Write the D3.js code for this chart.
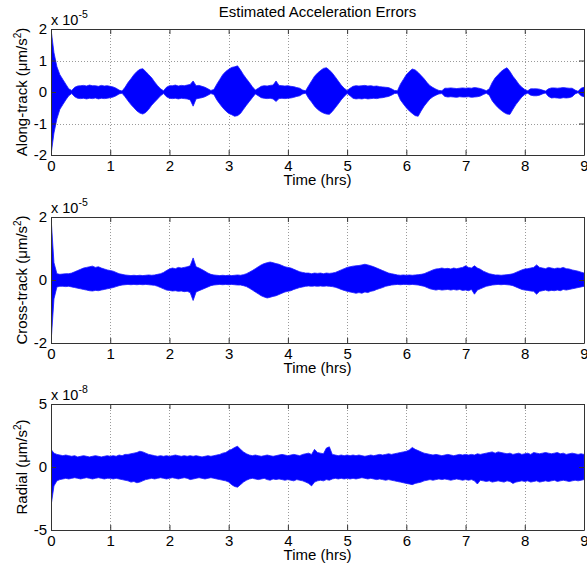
<!DOCTYPE html>
<html>
<head>
<meta charset="utf-8">
<script src="https://cdn.jsdelivr.net/npm/d3@7"></script>
<style>
body { margin: 0; background: #fff; }
svg { display: block; font-family: Arial, "Liberation Sans", Helvetica, sans-serif; }
</style>
</head>
<body>
<svg id="chart" width="587" height="571" viewBox="0 0 587 571"></svg>
<script>
// sample times in hours, one every 3 minutes (0 .. 9)
const hours = d3.range(181).map(i => +(i * 0.05).toFixed(2));

// envelope of the along-track error (x 1e-5), one row per hour
const alongUpper = [
  2.0, 1.25, 0.8, 0.55, 0.4, 0.25, 0.1, 0.05, 0.15, 0.19, 0.2, 0.21, 0.19, 0.22, 0.2, 0.2, 0.18, 0.21, 0.19, 0.2,
  0.18, 0.16, 0.12, 0.06, 0.03, 0.15, 0.3, 0.42, 0.55, 0.65, 0.72, 0.74, 0.65, 0.55, 0.45, 0.32, 0.2, 0.1, 0.04, 0.15,
  0.2, 0.2, 0.22, 0.19, 0.21, 0.2, 0.22, 0.24, 0.35, 0.2, 0.21, 0.18, 0.15, 0.1, 0.05, 0.08, 0.25, 0.4, 0.55, 0.65,
  0.72, 0.78, 0.8, 0.83, 0.7, 0.55, 0.42, 0.3, 0.17, 0.06, 0.12, 0.18, 0.2, 0.19, 0.21, 0.22, 0.35, 0.21, 0.2, 0.19,
  0.2, 0.18, 0.17, 0.14, 0.12, 0.06, 0.04, 0.2, 0.35, 0.5, 0.6, 0.68, 0.75, 0.77, 0.7, 0.6, 0.48, 0.35, 0.22, 0.12,
  0.05, 0.12, 0.18, 0.2, 0.19, 0.2, 0.21, 0.19, 0.2, 0.18, 0.19, 0.17, 0.16, 0.15, 0.14, 0.1, 0.05, 0.04, 0.25, 0.4,
  0.55, 0.65, 0.73, 0.7, 0.62, 0.52, 0.42, 0.3, 0.2, 0.14, 0.09, 0.05, 0.04, 0.12, 0.12, 0.13, 0.12, 0.11, 0.12, 0.13,
  0.12, 0.13, 0.12, 0.14, 0.13, 0.11, 0.08, 0.04, 0.1, 0.3, 0.45, 0.55, 0.65, 0.72, 0.77, 0.65, 0.5, 0.38, 0.25, 0.15,
  0.08, 0.04, 0.1, 0.1, 0.1, 0.09, 0.06, 0.03, 0.1, 0.13, 0.13, 0.12, 0.13, 0.14, 0.13, 0.12, 0.12, 0.06, 0.02, 0.12,
  0.15
];
const alongLower = [
  -2.0, -1.3, -0.85, -0.55, -0.4, -0.25, -0.12, -0.05, -0.15, -0.2, -0.21, -0.2, -0.22, -0.2, -0.21, -0.19, -0.22, -0.2, -0.21, -0.2,
  -0.18, -0.16, -0.12, -0.06, -0.04, -0.15, -0.28, -0.4, -0.5, -0.6, -0.67, -0.7, -0.65, -0.55, -0.42, -0.32, -0.22, -0.12, -0.05, -0.15,
  -0.2, -0.21, -0.2, -0.22, -0.2, -0.21, -0.22, -0.25, -0.45, -0.22, -0.2, -0.18, -0.15, -0.1, -0.05, -0.08, -0.25, -0.38, -0.5, -0.6,
  -0.68, -0.72, -0.77, -0.75, -0.68, -0.55, -0.42, -0.3, -0.18, -0.06, -0.12, -0.18, -0.2, -0.21, -0.2, -0.22, -0.3, -0.21, -0.2, -0.21,
  -0.2, -0.19, -0.17, -0.14, -0.12, -0.06, -0.04, -0.2, -0.32, -0.45, -0.55, -0.62, -0.67, -0.7, -0.71, -0.62, -0.5, -0.38, -0.25, -0.14,
  -0.05, -0.12, -0.2, -0.22, -0.21, -0.22, -0.2, -0.22, -0.21, -0.2, -0.21, -0.19, -0.18, -0.16, -0.14, -0.1, -0.05, -0.04, -0.25, -0.38,
  -0.5, -0.6, -0.68, -0.75, -0.77, -0.6, -0.45, -0.33, -0.22, -0.15, -0.1, -0.06, -0.05, -0.14, -0.16, -0.15, -0.16, -0.17, -0.15, -0.16,
  -0.16, -0.15, -0.17, -0.16, -0.15, -0.13, -0.08, -0.04, -0.1, -0.28, -0.4, -0.5, -0.58, -0.65, -0.7, -0.71, -0.55, -0.4, -0.28, -0.16,
  -0.08, -0.04, -0.1, -0.12, -0.12, -0.1, -0.06, -0.03, -0.14, -0.19, -0.18, -0.19, -0.2, -0.18, -0.19, -0.18, -0.15, -0.06, -0.02, -0.12,
  -0.15
];

// envelope of the cross-track error (x 1e-5)
const crossUpper = [
  2.0, 0.55, 0.2, 0.18, 0.19, 0.2, 0.2, 0.22, 0.26, 0.3, 0.34, 0.38, 0.4, 0.42, 0.44, 0.4, 0.42, 0.38, 0.35, 0.32,
  0.3, 0.28, 0.24, 0.2, 0.18, 0.16, 0.15, 0.14, 0.15, 0.14, 0.15, 0.14, 0.15, 0.16, 0.15, 0.16, 0.18, 0.2, 0.24, 0.3,
  0.35, 0.38, 0.36, 0.4, 0.38, 0.4, 0.42, 0.45, 0.7, 0.42, 0.38, 0.33, 0.28, 0.22, 0.18, 0.16, 0.15, 0.14, 0.15, 0.14,
  0.15, 0.14, 0.15, 0.16, 0.15, 0.17, 0.2, 0.25, 0.3, 0.36, 0.42, 0.48, 0.52, 0.55, 0.57, 0.55, 0.52, 0.5, 0.46, 0.42,
  0.4, 0.38, 0.34, 0.3, 0.26, 0.24, 0.22, 0.22, 0.2, 0.22, 0.21, 0.22, 0.2, 0.22, 0.21, 0.22, 0.24, 0.28, 0.32, 0.36,
  0.4, 0.42, 0.44, 0.45, 0.46, 0.48, 0.5, 0.48, 0.45, 0.42, 0.38, 0.34, 0.3, 0.26, 0.22, 0.2, 0.18, 0.16, 0.15, 0.16,
  0.15, 0.16, 0.15, 0.16, 0.17, 0.18, 0.2, 0.24, 0.28, 0.32, 0.35, 0.36, 0.38, 0.36, 0.37, 0.35, 0.38, 0.36, 0.38, 0.4,
  0.45, 0.4, 0.38, 0.45, 0.38, 0.34, 0.28, 0.24, 0.2, 0.18, 0.16, 0.16, 0.15, 0.16, 0.17, 0.18, 0.2, 0.24, 0.28, 0.32,
  0.35, 0.36, 0.38, 0.4, 0.48, 0.4, 0.38, 0.36, 0.4, 0.38, 0.36, 0.38, 0.37, 0.4, 0.36, 0.35, 0.32, 0.3, 0.28, 0.25,
  0.22
];
const crossLower = [
  -2.0, -0.6, -0.22, -0.2, -0.2, -0.21, -0.2, -0.22, -0.24, -0.26, -0.28, -0.3, -0.32, -0.34, -0.35, -0.33, -0.34, -0.32, -0.3, -0.28,
  -0.26, -0.24, -0.21, -0.18, -0.16, -0.15, -0.14, -0.15, -0.14, -0.15, -0.14, -0.15, -0.14, -0.15, -0.16, -0.17, -0.2, -0.24, -0.28, -0.32,
  -0.33, -0.35, -0.34, -0.36, -0.35, -0.37, -0.36, -0.4, -0.65, -0.38, -0.34, -0.3, -0.26, -0.22, -0.18, -0.16, -0.15, -0.14, -0.15, -0.14,
  -0.15, -0.14, -0.15, -0.16, -0.16, -0.18, -0.21, -0.26, -0.32, -0.38, -0.44, -0.5, -0.54, -0.57, -0.55, -0.52, -0.5, -0.46, -0.42, -0.38,
  -0.36, -0.34, -0.3, -0.27, -0.24, -0.22, -0.2, -0.19, -0.2, -0.19, -0.2, -0.19, -0.2, -0.19, -0.2, -0.21, -0.23, -0.26, -0.3, -0.33,
  -0.36, -0.38, -0.4, -0.42, -0.4, -0.42, -0.38, -0.4, -0.36, -0.34, -0.3, -0.27, -0.24, -0.2, -0.18, -0.16, -0.15, -0.14, -0.15, -0.14,
  -0.14, -0.15, -0.14, -0.15, -0.16, -0.18, -0.2, -0.24, -0.28, -0.3, -0.32, -0.3, -0.32, -0.31, -0.3, -0.32, -0.3, -0.32, -0.3, -0.33,
  -0.32, -0.34, -0.3, -0.45, -0.32, -0.28, -0.24, -0.2, -0.18, -0.16, -0.15, -0.14, -0.15, -0.14, -0.15, -0.16, -0.18, -0.22, -0.26, -0.3,
  -0.32, -0.33, -0.35, -0.36, -0.45, -0.36, -0.34, -0.32, -0.35, -0.33, -0.34, -0.32, -0.34, -0.3, -0.32, -0.3, -0.28, -0.26, -0.24, -0.22,
  -0.2
];

// envelope of the radial error (x 1e-8)
const radialUpper = [
  1.4, 1.1, 1.0, 0.95, 0.9, 0.95, 0.9, 0.85, 0.9, 0.8, 0.85, 0.9, 0.85, 0.8, 0.85, 0.9, 0.85, 0.8, 0.85, 0.9,
  0.85, 0.9, 0.85, 0.95, 0.9, 1.0, 1.0, 1.05, 1.1, 1.15, 1.25, 1.2, 1.1, 1.0, 0.95, 0.9, 0.85, 0.9, 0.85, 0.9,
  0.85, 0.9, 0.95, 0.9, 0.85, 0.9, 0.85, 0.9, 0.85, 0.9, 0.85, 0.8, 0.85, 0.9, 0.85, 0.9, 0.95, 1.0, 1.1, 1.15,
  1.3, 1.4, 1.55, 1.65, 1.4, 1.2, 1.05, 0.95, 0.9, 0.95, 0.9, 0.85, 0.9, 0.95, 0.9, 0.85, 0.9, 0.95, 1.0, 0.95,
  0.9, 0.95, 1.0, 0.95, 0.9, 1.0, 1.05, 1.1, 1.0, 1.4, 1.15, 1.1, 1.05, 1.5, 1.6, 1.0, 0.95, 0.9, 0.95, 0.9,
  0.95, 0.9, 0.95, 0.9, 0.95, 0.9, 0.85, 0.9, 0.95, 0.9, 0.95, 1.0, 0.95, 1.0, 1.05, 1.0, 1.05, 1.1, 1.15, 1.2,
  1.25, 1.35, 1.55, 1.4, 1.3, 1.2, 1.1, 1.05, 1.0, 0.95, 1.0, 0.95, 0.9, 0.95, 1.0, 0.95, 0.9, 0.95, 1.0, 0.95,
  1.0, 0.95, 1.0, 0.95, 1.05, 1.0, 1.05, 1.1, 1.15, 1.2, 1.1, 1.2, 1.15, 1.1, 1.05, 1.1, 1.0, 1.05, 1.1, 1.0,
  1.05, 1.1, 1.0, 1.15, 1.1, 1.05, 1.1, 1.15, 1.1, 1.05, 1.1, 1.15, 1.05, 1.1, 1.0, 1.05, 1.1, 1.05, 1.0, 1.05,
  1.0
];
const radialLower = [
  -3.1, -1.5, -1.1, -1.0, -0.95, -0.9, -0.95, -0.9, -0.85, -0.9, -0.95, -0.9, -0.85, -0.9, -0.95, -0.9, -0.85, -0.9, -0.95, -0.9,
  -0.9, -0.95, -0.9, -0.95, -1.0, -1.05, -1.1, -1.2, -1.15, -1.25, -1.2, -1.1, -1.0, -0.95, -0.9, -0.95, -0.9, -0.85, -0.9, -0.95,
  -0.9, -0.85, -0.9, -0.95, -0.9, -0.85, -0.9, -1.0, -0.95, -0.9, -0.85, -0.9, -0.95, -0.9, -0.85, -0.9, -0.95, -1.0, -1.05, -1.1,
  -1.2, -1.4, -1.55, -1.6, -1.4, -1.2, -1.05, -0.95, -0.9, -0.95, -1.0, -0.95, -0.9, -1.0, -1.05, -0.95, -1.0, -0.95, -1.0, -1.05,
  -1.0, -1.05, -1.1, -1.0, -1.05, -1.1, -1.2, -1.3, -1.5, -1.2, -1.1, -1.05, -1.1, -1.0, -1.05, -0.95, -0.9, -0.95, -0.9, -0.95,
  -0.9, -0.95, -0.9, -0.95, -0.9, -0.85, -0.9, -0.95, -0.9, -0.95, -1.0, -0.95, -1.0, -1.05, -1.0, -1.05, -1.1, -1.15, -1.2, -1.25,
  -1.3, -1.35, -1.4, -1.3, -1.25, -1.2, -1.1, -1.05, -1.0, -1.05, -1.0, -0.95, -1.0, -0.95, -1.0, -1.05, -1.0, -0.95, -1.0, -1.05,
  -1.0, -1.05, -1.0, -1.1, -1.35, -1.05, -1.1, -1.15, -1.1, -1.2, -1.15, -1.1, -1.15, -1.2, -1.1, -1.15, -1.3, -1.2, -1.15, -1.1,
  -1.15, -1.1, -1.2, -1.15, -1.1, -1.2, -1.15, -1.1, -1.15, -1.1, -1.05, -1.15, -1.1, -1.05, -1.1, -1.15, -1.1, -1.05, -1.1, -1.05,
  -1.0
];

const xTicks = [0, 1, 2, 3, 4, 5, 6, 7, 8, 9];

const panels = [
  { name: "Along-track", upper: alongUpper, lower: alongLower, yTicks: [-2, -1, 0, 1, 2], exponent: "-5", top: 29 },
  { name: "Cross-track", upper: crossUpper, lower: crossLower, yTicks: [-2, 0, 2], exponent: "-5", top: 217 },
  { name: "Radial", upper: radialUpper, lower: radialLower, yTicks: [-5, 0, 5], exponent: "-8", top: 404 }
];

const svg = d3.select("#chart");
const left = 51, right = 584, plotH = 126;
const axisColor = "#333";
const fontSize = 15;

const x = d3.scaleLinear().domain([0, 9]).range([left, right]);

svg.append("text")
  .attr("x", (left + right) / 2)
  .attr("y", 17)
  .attr("text-anchor", "middle")
  .attr("font-size", 15)
  .text("Estimated Acceleration Errors");

panels.forEach((p, i) => {
  const top = p.top, bottom = top + plotH;
  const y = d3.scaleLinear().domain(d3.extent(p.yTicks)).range([bottom, top]);

  const g = svg.append("g");

  // clip so the start-up transient stays inside the box
  const clipId = "clip" + i;
  svg.append("clipPath").attr("id", clipId)
    .append("rect")
    .attr("x", left).attr("y", top)
    .attr("width", right - left).attr("height", plotH);

  // dotted grid
  g.append("g").selectAll("line")
    .data(xTicks.slice(1, -1))
    .join("line")
    .attr("x1", d => Math.round(x(d)) + 0.5).attr("x2", d => Math.round(x(d)) + 0.5)
    .attr("y1", top).attr("y2", bottom)
    .attr("stroke", "#9a9a9a").attr("stroke-width", 1)
    .attr("stroke-dasharray", "1,2");
  g.append("g").selectAll("line")
    .data(p.yTicks.slice(1, -1))
    .join("line")
    .attr("x1", left).attr("x2", right)
    .attr("y1", d => Math.round(y(d)) + 0.5).attr("y2", d => Math.round(y(d)) + 0.5)
    .attr("stroke", "#9a9a9a").attr("stroke-width", 1)
    .attr("stroke-dasharray", "1,2");

  // error signal envelope
  const series = hours.map((t, k) => ({ t: t, hi: p.upper[k], lo: p.lower[k] }));
  const area = d3.area()
    .x(d => x(d.t))
    .y0(d => y(d.lo))
    .y1(d => y(d.hi));
  g.append("path")
    .datum(series)
    .attr("clip-path", `url(#${clipId})`)
    .attr("d", area)
    .attr("fill", "#0000ff")
    .attr("stroke", "#1a1aff")
    .attr("stroke-width", 0.8)
    .attr("stroke-linejoin", "round");

  // axes with inward ticks on all four sides
  const styleAxis = sel => {
    sel.attr("font-size", fontSize).attr("font-family", null);
    sel.selectAll("path, line").attr("stroke", axisColor);
    sel.selectAll("text").attr("fill", "#000");
  };
  g.append("g")
    .attr("transform", `translate(0,${bottom})`)
    .call(d3.axisBottom(x).tickValues(xTicks).tickFormat(d3.format("d"))
      .tickSizeInner(-5).tickSizeOuter(0).tickPadding(5))
    .call(styleAxis);
  g.append("g")
    .attr("transform", `translate(0,${top})`)
    .call(d3.axisTop(x).tickValues(xTicks).tickFormat("")
      .tickSizeInner(-5).tickSizeOuter(0))
    .call(styleAxis);
  g.append("g")
    .attr("transform", `translate(${left},0)`)
    .call(d3.axisLeft(y).tickValues(p.yTicks).tickFormat(d3.format("d"))
      .tickSizeInner(-5).tickSizeOuter(0).tickPadding(4))
    .call(styleAxis);
  g.append("g")
    .attr("transform", `translate(${right},0)`)
    .call(d3.axisRight(y).tickValues(p.yTicks).tickFormat("")
      .tickSizeInner(-5).tickSizeOuter(0))
    .call(styleAxis);

  // tick labels use a plain hyphen for negatives
  g.selectAll("text").each(function () {
    const t = d3.select(this);
    t.text(t.text().replace("\u2212", "-"));
  });

  // scale factor above the y axis
  const ex = g.append("text")
    .attr("x", left)
    .attr("y", top - 4)
    .attr("font-size", 14.5)
    .text("x 10");
  ex.append("tspan")
    .attr("dy", -7)
    .attr("font-size", 10.5)
    .text(p.exponent);

  // x axis title
  g.append("text")
    .attr("x", (left + right) / 2)
    .attr("y", bottom + 30)
    .attr("text-anchor", "middle")
    .attr("font-size", fontSize)
    .text("Time (hrs)");

  // y axis title with superscript unit
  const yl = g.append("text")
    .attr("transform", `translate(27,${(top + bottom) / 2}) rotate(-90)`)
    .attr("text-anchor", "middle")
    .attr("font-size", fontSize)
    .text(p.name + " (\u03bcm/s");
  yl.append("tspan").attr("dy", -6).attr("font-size", 10).text("2");
  yl.append("tspan").attr("dy", 6).text(")");
});
</script>
</body>
</html>
